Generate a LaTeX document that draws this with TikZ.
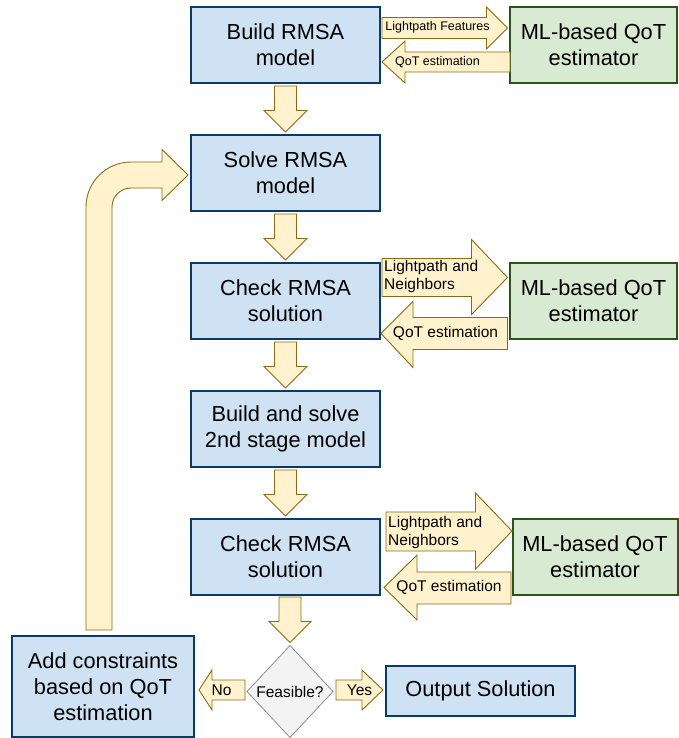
\documentclass[tikz,border=0pt]{standalone}
\usepackage{fontspec}
\setmainfont{Liberation Sans}
\usetikzlibrary{positioning,calc,shapes.geometric}
\definecolor{procfill}{HTML}{CFE2F3}
\definecolor{procline}{HTML}{0B3A66}
\definecolor{qotfill}{HTML}{D9EAD3}
\definecolor{qotline}{HTML}{2B5418}
\definecolor{fatfill}{HTML}{FFF2CC}
\definecolor{fatline}{HTML}{8A6A12}
\definecolor{testfill}{HTML}{F3F3F3}
\definecolor{testline}{HTML}{8C8C8C}
\tikzstyle{proc}=[draw=procline, fill=procfill, line width=2pt, outer sep=0pt, minimum width=189pt, minimum height=76pt, align=center, font=\fontsize{21.8}{26}\selectfont]
\tikzstyle{qot}=[proc, draw=qotline, fill=qotfill, minimum width=167pt]
\tikzstyle{test}=[diamond, draw=testline, fill=testfill, line width=0.8pt, inner sep=0pt, outer sep=0pt, minimum width=86pt, minimum height=92pt, font=\fontsize{15.5}{18}\selectfont]
\tikzstyle{fat}=[draw=fatline, fill=fatfill, line width=0.9pt]
\tikzstyle{lbl}=[inner sep=0pt, align=left, font=\fontsize{15.5}{18}\selectfont]

\begin{document}
\begin{tikzpicture}[x=1pt,y=-1pt,node distance=128pt]
\useasboundingbox (0,0) rectangle (678,738);
% main column
\node [proc] (b1) at (285.5,45) {Build RMSA\\model};
\node [proc] (b2) [below of=b1] {Solve RMSA\\model};
\node [proc] (b3) [below of=b2] {Check RMSA\\solution};
\node [proc] (b4) [below of=b3] {Build and solve\\2nd stage model};
\node [proc] (b5) [below of=b4] {Check RMSA\\solution};
% estimators
\node [qot] (q1) [right=130pt of b1] {ML-based QoT\\estimator};
\node [qot] (q2) [right=130pt of b3] {ML-based QoT\\estimator};
\node [qot, minimum width=165pt] (q3) [right=132.5pt of b5] {ML-based QoT\\estimator};
% decision
\node [test] (d) at (290,691.5) {Feasible?};
\node [proc, minimum width=182pt, minimum height=101pt] (c) at (103,686.5) {Add constraints\\based on QoT\\estimation};
\node [proc, minimum height=50pt] (o) at (480.5,691) {Output Solution};

% down arrows
\foreach \a/\b in {b1/b2,b2/b3,b3/b4,b4/b5}
  \draw [fat] ($(\a.south)+(-11,3)$) -- ($(\a.south)+(11,3)$) -- ($(\b.north)+(11,-24.5)$) -- ($(\b.north)+(21.5,-24.5)$)
    -- ($(\b.north)+(0,-3)$) -- ($(\b.north)+(-21.5,-24.5)$) -- ($(\b.north)+(-11,-24.5)$) -- cycle;
\draw [fat] ($(d.north |- b5.south)+(-11,2)$) -- ($(d.north |- b5.south)+(11,2)$) -- ($(d.north)+(11,-24)$) -- ($(d.north)+(21,-24)$)
  -- ($(d.north)+(0,-3)$) -- ($(d.north)+(-21,-24)$) -- ($(d.north)+(-11,-24)$) -- cycle;

% row 1
\draw [fat] ($(b1.east)+(2,-27.5)$) -- ($(q1.west)+(-23.5,-27.5)$) -- ($(q1.west)+(-23.5,-38)$) -- ($(q1.west)+(-2.5,-17)$)
  -- ($(q1.west)+(-23.5,4)$) -- ($(q1.west)+(-23.5,-6.5)$) -- ($(b1.east)+(2,-6.5)$) -- cycle;
\draw [fat] ($(q1.west)+(0,7)$) -- ($(b1.east)+(25,7)$) -- ($(b1.east)+(25,-4)$) -- ($(b1.east)+(2,17)$)
  -- ($(b1.east)+(25,38)$) -- ($(b1.east)+(25,27)$) -- ($(q1.west)+(0,27)$) -- cycle;
\node [lbl, font=\fontsize{12.5}{14}\selectfont] (f1) at ($(b1.east)+(57.5,-18)$) {Lightpath Features};
\node [lbl, font=\fontsize{12.5}{14}\selectfont] (e1) at ($(b1.east)+(57.5,17)$) {QoT estimation};

% row 2
\draw [fat] ($(b3.east)+(2,-42.5)$) -- ($(q2.west)+(-38.5,-42.5)$) -- ($(q2.west)+(-38.5,-61.5)$) -- ($(q2.west)+(-2.5,-23.5)$)
  -- ($(q2.west)+(-38.5,13.5)$) -- ($(q2.west)+(-38.5,-4.5)$) -- ($(b3.east)+(2,-4.5)$) -- cycle;
\draw [fat] ($(q2.west)+(-2.5,16.5)$) -- ($(b3.east)+(33,16.5)$) -- ($(b3.east)+(33,0.5)$) -- ($(b3.east)+(1,32.5)$)
  -- ($(b3.east)+(33,66.5)$) -- ($(b3.east)+(33,48.5)$) -- ($(q2.west)+(-2.5,48.5)$) -- cycle;
\node [lbl, anchor=west] (f2) at ($(b3.east)+(4,-24.5)$) {Lightpath and\\Neighbors};
\node [lbl] (e2) at ($(b3.east)+(65.5,32.5)$) {QoT estimation};

% row 3
\draw [fat] ($(b5.east)+(6,-45)$) -- ($(q3.west)+(-37,-45)$) -- ($(q3.west)+(-37,-64)$) -- ($(q3.west)+(-0.5,-26)$)
  -- ($(q3.west)+(-37,12)$) -- ($(q3.west)+(-37,-6)$) -- ($(b5.east)+(6,-6)$) -- cycle;
\draw [fat] ($(q3.west)+(-1.5,15)$) -- ($(b5.east)+(37,15)$) -- ($(b5.east)+(37,-2)$) -- ($(b5.east)+(4,30.5)$)
  -- ($(b5.east)+(37,63)$) -- ($(b5.east)+(37,47)$) -- ($(q3.west)+(-1.5,47)$) -- cycle;
\node [lbl, anchor=west] (f3) at ($(b5.east)+(8,-25)$) {Lightpath and\\Neighbors};
\node [lbl] (e3) at ($(b5.east)+(69,30)$) {QoT estimation};

% no / yes
\draw [fat] ($(d.west)+(-2,-11.5)$) -- ($(c.east |- d.west)+(18,-11.5)$) -- ($(c.east |- d.west)+(18,-21.5)$) -- ($(c.east |- d.west)+(5,-1.5)$)
  -- ($(c.east |- d.west)+(18,18.5)$) -- ($(c.east |- d.west)+(18,8.5)$) -- ($(d.west)+(-2,8.5)$) -- cycle;
\draw [fat] ($(d.east)+(3,-11.5)$) -- ($(o.west |- d.east)+(-24,-11.5)$) -- ($(o.west |- d.east)+(-24,-21.5)$) -- ($(o.west |- d.east)+(-3,-1.5)$)
  -- ($(o.west |- d.east)+(-24,18.5)$) -- ($(o.west |- d.east)+(-24,8.5)$) -- ($(d.east)+(3,8.5)$) -- cycle;
\node [lbl, font=\fontsize{15.5}{18}\selectfont] (no) at ($(d.west)+(-25.5,-1.5)$) {No};
\node [lbl, font=\fontsize{15.5}{18}\selectfont] (yes) at ($(d.east)+(26.5,-1.5)$) {Yes};

% loop back
\draw [fat] ($(c.north)+(-17,-6)$) -- ($(c.north |- b2.west)+(-17,34)$) arc [start angle=180, end angle=270, radius=45]
  -- ($(b2.west)+(-29,-11)$) -- ($(b2.west)+(-29,-23.5)$) -- ($(b2.west)+(-3,2)$) -- ($(b2.west)+(-29,27.5)$)
  -- ($(b2.west)+(-29,15)$) -- ($(c.north |- b2.west)+(28,15)$) arc [start angle=270, end angle=180, radius=19]
  -- ($(c.north)+(9,-6)$) -- cycle;
\end{tikzpicture}
\end{document}
